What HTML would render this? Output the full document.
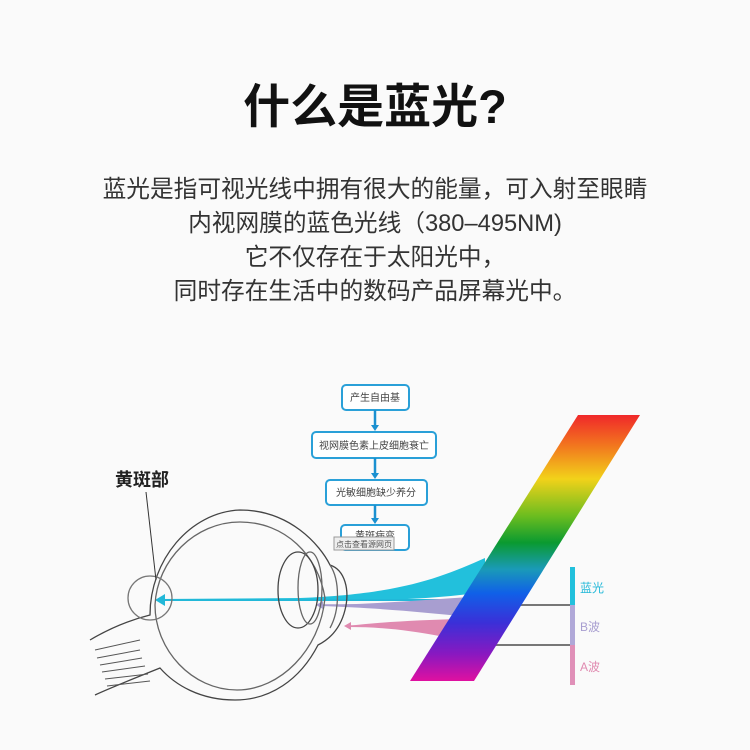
<!DOCTYPE html>
<html><head><meta charset="utf-8"><style>
html,body{margin:0;padding:0;background:#fafafa;}
.wrap{position:relative;width:750px;height:750px;overflow:hidden;font-family:"Liberation Sans","Noto Sans CJK SC",sans-serif;}
h1{position:absolute;top:77px;left:0;width:750px;text-align:center;margin:0;font-size:47px;font-weight:bold;color:#111;line-height:60px;}
.p{position:absolute;top:173px;left:0;width:750px;text-align:center;font-size:23.7px;line-height:34px;color:#333;}
svg{position:absolute;left:0;top:0;}
</style></head><body><div class="wrap">
<h1>什么是蓝光?</h1>
<div class="p">蓝光是指可视光线中拥有很大的能量，可入射至眼睛<br>内视网膜的蓝色光线（380–495NM)<br>它不仅存在于太阳光中，<br>同时存在生活中的数码产品屏幕光中。</div>
<svg width="750" height="750" viewBox="0 0 750 750" font-family="Liberation Sans,Noto Sans CJK SC,sans-serif">
<defs>
<linearGradient id="rb" x1="0" y1="0" x2="0" y2="1">
<stop offset="0" stop-color="#f0282a"/><stop offset="0.12" stop-color="#f27a1e"/>
<stop offset="0.24" stop-color="#f2d21a"/><stop offset="0.38" stop-color="#6bbd1f"/>
<stop offset="0.48" stop-color="#0a9a30"/><stop offset="0.58" stop-color="#1a9ab8"/>
<stop offset="0.67" stop-color="#1060e8"/><stop offset="0.78" stop-color="#3a30d8"/>
<stop offset="0.9" stop-color="#8a18c0"/><stop offset="1" stop-color="#e010a0"/>
</linearGradient>
</defs>
<g fill="#fff" stroke="#2aa0d8" stroke-width="2">
<rect x="342" y="385" width="67" height="25" rx="4"/>
<rect x="312" y="432" width="124" height="26" rx="4"/>
<rect x="326" y="480" width="101" height="25" rx="4"/>
<rect x="341" y="525" width="68" height="25" rx="4"/>
</g>
<g stroke="#1a90d0" stroke-width="2.5"><line x1="375" y1="410" x2="375" y2="427"/><line x1="375" y1="458" x2="375" y2="475"/><line x1="375" y1="505" x2="375" y2="520"/></g>
<g fill="#1a90d0"><path d="M371 425h8l-4 6z"/><path d="M371 473h8l-4 6z"/><path d="M371 518h8l-4 6z"/></g>
<g font-size="10" fill="#444" text-anchor="middle">
<text x="375" y="401">产生自由基</text>
<text x="374" y="449">视网膜色素上皮细胞衰亡</text>
<text x="376" y="496">光敏细胞缺少养分</text>
<text x="375" y="539">黄斑病变</text>
</g>
<rect x="334" y="537" width="60" height="13" fill="#eee" stroke="#999" stroke-width="1"/>
<text x="364" y="547" font-size="8" fill="#555" text-anchor="middle">点击查看源网页</text>
<path d="M485 558 C440 578 400 594 300 598 L160 599 L160 601 L300 601 C400 601 440 598 485 592 Z" fill="#22c0dc"/>
<line x1="160" y1="600" x2="480" y2="600" stroke="#22b8d8" stroke-width="2"/>
<path d="M155 600 l10 -6 v12 z" fill="#22b8d8"/>
<path d="M470 597 C420 600 380 604 320 605 L320 606 C380 608 420 612 470 617 Z" fill="#a89ed0"/>
<line x1="320" y1="605" x2="470" y2="605" stroke="#a89ed0" stroke-width="1.5"/>
<path d="M316 605 l7 -4 v8 z" fill="#a89ed0"/>
<path d="M460 619 C420 620 380 622 348 626 L348 627 C390 627 420 632 460 640 Z" fill="#e08ab0"/>
<line x1="348" y1="626" x2="460" y2="626" stroke="#e08ab0" stroke-width="1.5"/>
<path d="M344 626 l7 -4 v8 z" fill="#e08ab0"/>
<line x1="490" y1="605" x2="574" y2="605" stroke="#777" stroke-width="2"/>
<line x1="470" y1="645" x2="574" y2="645" stroke="#777" stroke-width="2"/>
<path d="M578 415 L640 415 L474 681 L410 681 Z" fill="url(#rb)"/>
<rect x="570" y="567" width="5" height="38" fill="#22c0dc"/>
<rect x="570" y="605" width="5" height="40" fill="#b0a8d8"/>
<rect x="570" y="645" width="5" height="40" fill="#e090b8"/>
<text x="580" y="592" font-size="12" fill="#22b8d8">蓝光</text>
<text x="580" y="631" font-size="12" fill="#a89ed0">B波</text>
<text x="580" y="671" font-size="12" fill="#e08ab0">A波</text>
<g fill="none" stroke="#444" stroke-width="1.3">
<path d="M90 640 C110 628 130 620 150 615 C150 560 190 512 240 510 C290 510 320 545 330 565 C345 570 350 590 345 610 C340 630 328 640 318 645 C300 680 270 700 235 700 C200 700 175 685 160 668 C130 680 110 688 95 695"/>
<path d="M155 605 C157 560 195 522 240 522 C285 522 318 555 325 598 C320 650 280 690 237 690 C192 690 155 650 155 605Z" stroke="#666"/>
<circle cx="150" cy="598" r="22" stroke="#777"/>
<ellipse cx="298" cy="590" rx="20" ry="38"/>
<ellipse cx="310" cy="588" rx="12" ry="36" stroke="#666"/>
<path d="M330 565 C340 580 340 610 330 628" stroke="#666"/>
</g>
<g stroke="#555" stroke-width="1">
<line x1="95" y1="650" x2="140" y2="640"/><line x1="97" y1="658" x2="140" y2="650"/>
<line x1="100" y1="665" x2="142" y2="658"/><line x1="102" y1="672" x2="145" y2="666"/>
<line x1="105" y1="679" x2="148" y2="674"/><line x1="107" y1="686" x2="150" y2="681"/>
</g>
<text x="115" y="486" font-size="18" font-weight="bold" fill="#222">黄斑部</text>
<line x1="146" y1="492" x2="156" y2="580" stroke="#333" stroke-width="1"/>
</svg>
</div></body></html>
